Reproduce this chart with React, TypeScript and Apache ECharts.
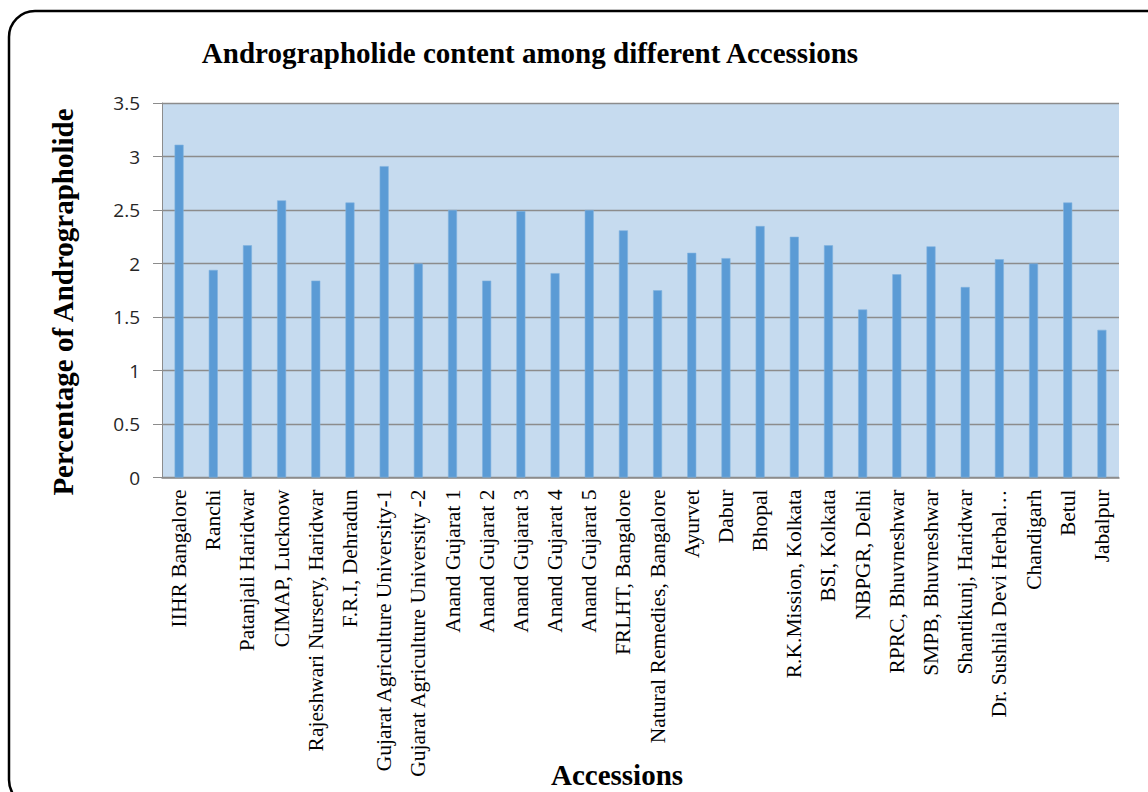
import React, { useEffect, useRef } from "react";
import * as echarts from "echarts";

// Accessions and their andrographolide content (%)
const accessions = [
  "IIHR Bangalore",
  "Ranchi",
  "Patanjali Haridwar",
  "CIMAP, Lucknow",
  "Rajeshwari Nursery, Haridwar",
  "F.R.I, Dehradun",
  "Gujarat Agriculture University-1",
  "Gujarat Agriculture University -2",
  "Anand Gujarat 1",
  "Anand Gujarat 2",
  "Anand Gujarat 3",
  "Anand Gujarat 4",
  "Anand Gujarat 5",
  "FRLHT, Bangalore",
  "Natural Remedies, Bangalore",
  "Ayurvet",
  "Dabur",
  "Bhopal",
  "R.K.Mission, Kolkata",
  "BSI, Kolkata",
  "NBPGR, Delhi",
  "RPRC, Bhuvneshwar",
  "SMPB, Bhuvneshwar",
  "Shantikunj, Haridwar",
  "Dr. Sushila Devi Herbal…",
  "Chandigarh",
  "Betul",
  "Jabalpur",
];

const andrographolide = [
  3.11, 1.94, 2.17, 2.59, 1.84, 2.57, 2.91, 2.0, 2.5, 1.84, 2.49, 1.91, 2.5, 2.31,
  1.75, 2.1, 2.05, 2.35, 2.25, 2.17, 1.57, 1.9, 2.16, 1.78, 2.04, 2.0, 2.57, 1.38,
];

const yTicks = { min: 0, max: 3.5, interval: 0.5 };

const chartTitle = "Andrographolide content among different Accessions";
const yTitle = "Percentage of Andrographolide";
const xTitle = "Accessions";

export default function App() {
  const ref = useRef<HTMLDivElement>(null);

  useEffect(() => {
    if (!ref.current) return;
    const chart = echarts.init(ref.current, undefined, { renderer: "svg" });
    const gray = "#8c8c8c";
    chart.setOption({
      animation: false,
      backgroundColor: "#ffffff",
      grid: {
        left: 162,
        right: 29,
        top: 103,
        bottom: 314.5,
        show: true,
        backgroundColor: "#C6DBEF",
        borderWidth: 0,
      },
      xAxis: {
        type: "category",
        data: accessions,
        boundaryGap: true,
        axisTick: { show: false },
        axisLine: { show: true, lineStyle: { color: gray, width: 1.5 } },
        axisLabel: {
          interval: 0,
          rotate: 90,
          margin: 12,
          color: "#000",
          fontFamily: "Liberation Serif",
          fontSize: 21.5,
        },
      },
      yAxis: {
        type: "value",
        min: yTicks.min,
        max: yTicks.max,
        interval: yTicks.interval,
        axisLine: { show: true, lineStyle: { color: gray, width: 1 } },
        axisTick: { show: true, length: 9, lineStyle: { color: gray } },
        splitLine: { show: true, lineStyle: { color: gray, width: 1.3 } },
        axisLabel: {
          margin: 22,
          color: "#262626",
          fontFamily: "Open Sans",
          fontSize: 19,
        },
      },
      series: [
        {
          type: "bar",
          data: andrographolide,
          barWidth: 9,
          itemStyle: { color: "#5B9BD5", borderColor: "#7FB2DF", borderWidth: 0.6 },
        },
      ],
      graphic: [
        {
          type: "rect",
          z: -10,
          shape: { x: 9, y: 11, width: 1165, height: 795, r: 26 },
          style: { fill: "none", stroke: "#000", lineWidth: 2.5 },
        },
        {
          type: "text",
          x: 530,
          y: 53,
          style: {
            text: chartTitle,
            font: 'bold 29px "Liberation Serif"',
            fill: "#000",
            textAlign: "center",
            textVerticalAlign: "middle",
          },
        },
        {
          type: "text",
          x: 63,
          y: 302,
          rotation: Math.PI / 2,
          style: {
            text: yTitle,
            font: 'bold 29px "Liberation Serif"',
            fill: "#000",
            textAlign: "center",
            textVerticalAlign: "middle",
          },
        },
        {
          type: "text",
          x: 617,
          y: 775,
          style: {
            text: xTitle,
            font: 'bold 29px "Liberation Serif"',
            fill: "#000",
            textAlign: "center",
            textVerticalAlign: "middle",
          },
        },
      ],
    });
    return () => chart.dispose();
  }, []);

  return (
    <div
      ref={ref}
      style={{ position: "fixed", left: 0, top: 0, width: 1148, height: 792 }}
    />
  );
}
